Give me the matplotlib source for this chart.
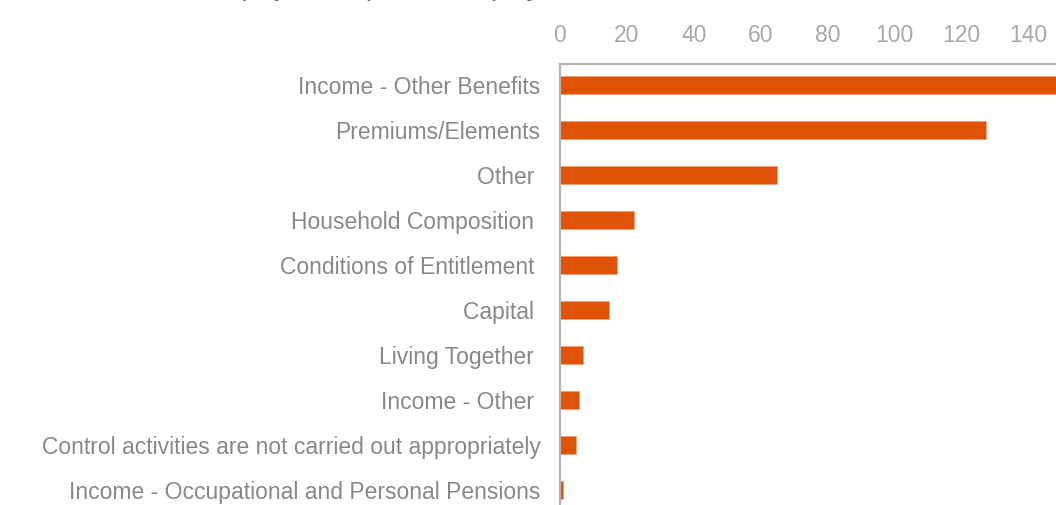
import matplotlib
matplotlib.use("Agg")
import matplotlib.pyplot as plt
from matplotlib import font_manager

plt.rcParams["font.family"] = ["Liberation Sans", "DejaVu Sans"]

# Overpayment by reason, £ millions
categories = [
    "Income - Other Benefits",
    "Premiums/Elements",
    "Other ",
    "Household Composition ",
    "Conditions of Entitlement ",
    "Capital ",
    "Living Together ",
    "Income - Other ",
    "Control activities are not carried out appropriately",
    "Income - Occupational and Personal Pensions",
]
values = [150, 127.5, 65, 22, 17, 14.7, 7.0, 5.7, 4.7, 0.8]
xticks = [0, 20, 40, 60, 80, 100, 120, 140]
title = "Overpayment (£ millions) by reason"

bar_color = "#e05206"
spine_color = "#b4b4b4"

installed = {f.name for f in font_manager.fontManager.ttflist}
tick_family = ["Liberation Sans Narrow"] if "Liberation Sans Narrow" in installed else ["Liberation Sans"]

fig = plt.figure(figsize=(10.56, 5.05), dpi=100)
ax = fig.add_axes([560 / 1056, -6 / 505, 496 / 1056, 447 / 505])

ypos = list(range(len(categories)))
ax.barh(ypos, values, height=0.38, color=bar_color, edgecolor="#f0a070",
        linewidth=0.6, zorder=2)

ax.set_xlim(0, 148.3)
ax.set_ylim(len(categories) - 1 + 0.467, -0.467)

ax.set_yticks(ypos)
ax.set_yticklabels(categories, fontsize=16.5, color="#888888")
ax.set_xticks(xticks)
ax.set_xticklabels([str(t) for t in xticks], fontsize=16.5, color="#a8a8a8",
                   family=tick_family + ["DejaVu Sans"])
ax.xaxis.tick_top()
ax.tick_params(axis="x", length=0, pad=12.5)
ax.tick_params(axis="y", length=0, pad=14)

for side in ("right", "bottom"):
    ax.spines[side].set_visible(False)
for side in ("left", "top"):
    ax.spines[side].set_color(spine_color)
    ax.spines[side].set_linewidth(1.6)

fig.text(178 / 1056, 1 + 5 / 505, title, fontsize=21, color="#6a6a72",
         ha="left", va="baseline")

fig.savefig("out.png", dpi=100)
